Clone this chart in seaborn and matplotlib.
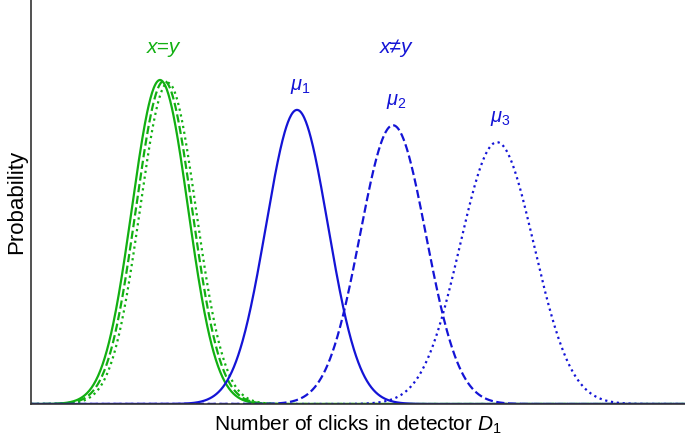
#!/usr/bin/env python3
"""Click-count distributions for x=y and x!=y cases."""

import matplotlib as mpl
import matplotlib.pyplot as plt
import numpy as np
import pandas as pd
import seaborn as sns

# peak positions (clicks), widths and peak heights
GREEN_MEANS = [12.9, 13.3, 13.7]
GREEN_SIGMAS = [2.8, 2.8, 2.8]
GREEN_PEAKS = [0.802, 0.800, 0.795]
BLUE_MEANS = [26.6, 36.2, 46.6]
BLUE_SIGMAS = [3.1, 3.3, 3.7]
BLUE_PEAKS = [0.728, 0.690, 0.648]
STYLES = ["-", "--", ":"]
MU_LABELS = [r"$\mu_1$", r"$\mu_2$", r"$\mu_3$"]

GREEN = "#12B012"
BLUE = "#1414D6"


def curve(mean, sigma, peak, x):
    return peak * np.exp(-0.5 * ((x - mean) / sigma) ** 2)


def main() -> None:
    sns.set_theme(style="white")
    mpl.rcParams.update({
        "font.family": ["Liberation Sans", "DejaVu Sans"],
        "mathtext.fontset": "custom",
        "mathtext.rm": "Liberation Sans",
        "mathtext.it": "Liberation Sans:italic",
        "axes.spines.top": False,
        "axes.spines.right": False,
        "text.color": "black",
        "axes.labelcolor": "black",
    })

    x = np.linspace(0, 65.4, 1200)
    fig = plt.figure(figsize=(6.85, 4.38), dpi=100)
    ax = fig.add_axes([31 / 685, 34 / 438, 1 - 31 / 685, 1 - 34 / 438])

    for m, s, p, ls in zip(GREEN_MEANS, GREEN_SIGMAS, GREEN_PEAKS, STYLES):
        df = pd.DataFrame({"x": x, "y": curve(m, s, p, x)})
        sns.lineplot(data=df, x="x", y="y", ax=ax, color=GREEN, lw=1.6, linestyle=ls)
    for m, s, p, ls, lab in zip(BLUE_MEANS, BLUE_SIGMAS, BLUE_PEAKS, STYLES, MU_LABELS):
        df = pd.DataFrame({"x": x, "y": curve(m, s, p, x)})
        sns.lineplot(data=df, x="x", y="y", ax=ax, color=BLUE, lw=1.6, linestyle=ls)
        ax.text(m + 0.3, p + 0.035, lab, color=BLUE, fontsize=14.5, ha="center", va="bottom")

    ax.text(GREEN_MEANS[1] - 0.1, 0.86, "x=y", color=GREEN, fontsize=15,
            style="italic", ha="center", va="bottom")
    ax.text(36.5, 0.86, "x≠y", color=BLUE, fontsize=15,
            style="italic", ha="center", va="bottom")

    ax.set_xlim(0, 65.4)
    ax.set_ylim(0, 1.0)
    ax.set_xticks([])
    ax.set_yticks([])
    ax.set_xlabel(r"Number of clicks in detector $D_1$", fontsize=15, labelpad=7)
    ax.set_ylabel("Probability", fontsize=16, labelpad=3)
    for side in ("left", "bottom"):
        ax.spines[side].set_color("#333333")
        ax.spines[side].set_linewidth(1.2)

    fig.savefig("out.png", dpi=100, facecolor="white")
    plt.close(fig)


if __name__ == "__main__":
    main()
